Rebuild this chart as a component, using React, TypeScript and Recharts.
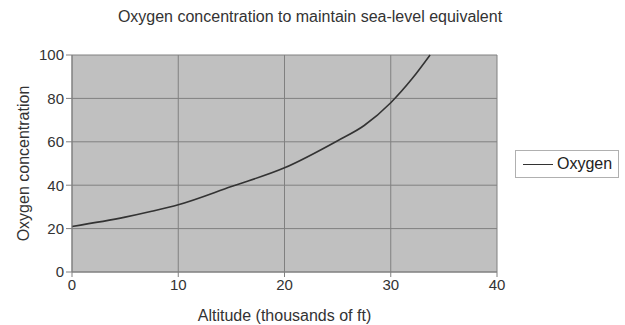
import { LineChart, Line, XAxis, YAxis, CartesianGrid } from 'recharts';

// altitude in thousands of ft
const altitude = [0, 5, 7.5, 10, 15, 20, 25, 27.5, 30, 32, 33.7];
// oxygen concentration in %
const oxygen = [21, 25.3, 28, 31, 39.4, 48, 60.5, 67.5, 78, 89, 100];

const xTicks = [0, 10, 20, 30, 40];
const yTicks = [0, 20, 40, 60, 80, 100];

const data = altitude.map((a, i) => ({ altitude: a, oxygen: oxygen[i] }));

const FONT = '"Liberation Sans", Arial, sans-serif';

export default function App() {
  return (
    <div style={{ position: 'absolute', left: 0, top: 0, width: 625, height: 325, background: '#fff' }}>
      <div
        style={{
          position: 'absolute',
          top: 8,
          left: 0,
          width: 620,
          textAlign: 'center',
          fontFamily: FONT,
          fontSize: 16,
          lineHeight: '18px',
          color: '#333',
        }}
      >
        Oxygen concentration to maintain sea-level equivalent
      </div>
      <LineChart
        width={625}
        height={325}
        data={data}
        margin={{ top: 55, right: 128, bottom: 0, left: 0 }}
        style={{ position: 'absolute', left: 0, top: 0 }}
      >
        <CartesianGrid fill="#c0c0c0" stroke="#808080" strokeWidth={1} />
        <XAxis
          dataKey="altitude"
          type="number"
          domain={[0, 40]}
          ticks={xTicks}
          interval={0}
          stroke="#808080"
          tickSize={5}
          tick={{ fill: '#333', fontSize: 15, fontFamily: FONT }}
          label={{ value: 'Altitude (thousands of ft)', position: 'center', dy: 17, fill: '#333', fontSize: 16, fontFamily: FONT }}
          height={53}
        />
        <YAxis
          type="number"
          domain={[0, 100]}
          ticks={yTicks}
          interval={0}
          stroke="#808080"
          tickSize={6}
          tick={{ fill: '#333', fontSize: 15, fontFamily: FONT }}
          width={72}
          label={{ value: 'Oxygen concentration', angle: -90, position: 'center', dx: -13, fill: '#333', fontSize: 16, fontFamily: FONT }}
        />
        <Line
          type="monotone"
          dataKey="oxygen"
          stroke="#333"
          strokeWidth={1.6}
          dot={false}
          isAnimationActive={false}
        />
      </LineChart>
      <div
        style={{
          position: 'absolute',
          left: 515,
          top: 150,
          width: 104,
          height: 28,
          boxSizing: 'border-box',
          border: '1px solid #b0b0b0',
          background: '#fff',
          display: 'flex',
          alignItems: 'center',
          fontFamily: FONT,
          fontSize: 16,
          color: '#222',
        }}
      >
        <span style={{ display: 'inline-block', width: 30, height: 0, borderTop: '1.5px solid #333', marginLeft: 7, marginRight: 4 }} />
        <span>Oxygen</span>
      </div>
    </div>
  );
}
